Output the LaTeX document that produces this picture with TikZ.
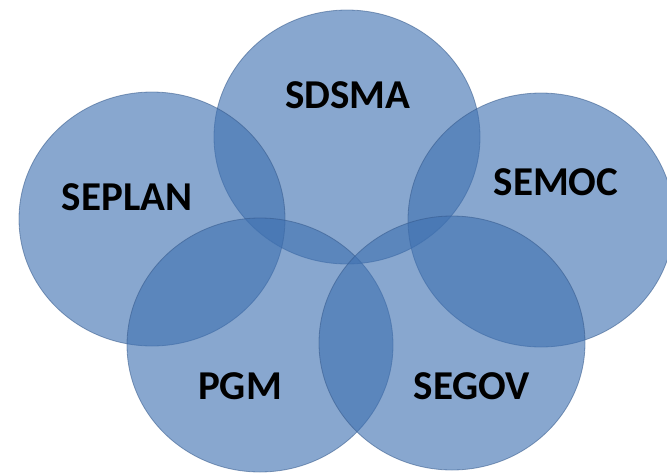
\documentclass[tikz,border=0pt]{standalone}
\usepackage{fontspec}
\setmainfont{Carlito}
\usepackage{tikz}
\usetikzlibrary{shapes}

\definecolor{ringblue}{RGB}{63,113,177}
\definecolor{ringedge}{RGB}{52,88,138}

\begin{document}
\begin{tikzpicture}[x=1pt, y=-1pt, line width=0.8pt]

	\tikzstyle{ring} = [ellipse, draw=ringedge, draw opacity=0.55, fill=ringblue, fill opacity=0.62, minimum width=266pt, minimum height=254pt, inner sep=0pt, outer sep=0pt]

	\tikzstyle{tag} = [text=black, inner sep=0pt, font=\fontsize{41}{41}\selectfont\bfseries]

	\useasboundingbox (0,0) rectangle (667,474);

	\node[ring] (sdsma ring) at (347,137) {};
	\node[ring] (seplan ring) at (152,219) {};
	\node[ring] (semoc ring) at (541,220) {};
	\node[ring] (pgm ring) at (260,345) {};
	\node[ring] (segov ring) at (452,343) {};

	\node[tag] (sdsma) at (348,95) {SDSMA};
	\node[tag] (seplan) at (127,197) {SEPLAN};
	\node[tag] (semoc) at (556,182) {SEMOC};
	\node[tag] (pgm) at (240,386) {PGM};
	\node[tag] (segov) at (472,386) {SEGOV};

\end{tikzpicture}
\end{document}
